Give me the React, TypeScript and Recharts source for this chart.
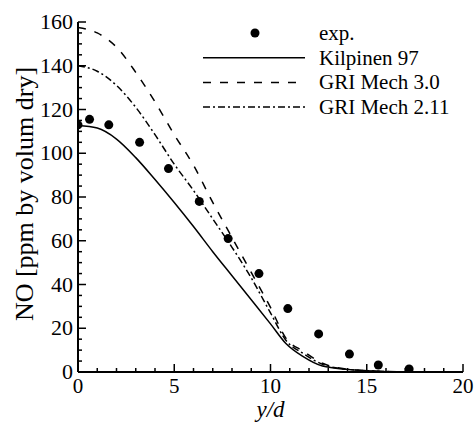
import React from "react";
import { ComposedChart, Line, Scatter, XAxis, YAxis, Legend } from "recharts";

// model curves share one x grid (y/d)
const modelX = [0, 1, 2, 3, 4, 5, 6, 7, 8, 9, 10, 10.8, 11.7, 12.7, 14, 15.5, 17.2];
const kilpinen97 = [112.7, 111.5, 106.5, 98, 88, 77.5, 66.5, 55, 44, 33, 22, 13, 7, 2.7, 1.2, 0.4, 0];
const griMech30 = [157.5, 155, 148.5, 137, 123.5, 108.5, 94.5, 77.5, 61.5, 45.5, 29.5, 15.5, 9.5, 4, 1.3, 0.4, 0];
const griMech211 = [140, 137.5, 131, 121, 108.5, 95, 83, 70, 57, 43, 27, 14.5, 8.5, 3.5, 1.2, 0.4, 0];

// experiment
const expX = [0, 0.6, 1.6, 3.2, 4.7, 6.3, 7.8, 9.4, 10.9, 12.5, 14.1, 15.6, 17.2];
const expNO = [113, 115.5, 113, 105, 93, 78, 61, 45, 29, 17.4, 8.2, 3.2, 1.4];

const xTicks = Array.from({ length: 21 }, (_, i) => i);
const yTicks = Array.from({ length: 33 }, (_, i) => i * 5);

const FONT = "'Liberation Serif', 'Times New Roman', serif";

const modelRows = modelX.map((x, i) => ({
  x,
  kil: kilpinen97[i],
  gri30: griMech30[i],
  gri211: griMech211[i],
}));
const expRows = expX.map((x, i) => ({ x, no: expNO[i] }));

function XTick(props: any) {
  const { x, y, payload } = props;
  const major = payload.value % 5 === 0;
  return (
    <g>
      <line x1={x} y1={y} x2={x} y2={y - (major ? 8 : 4)} stroke="#000" strokeWidth={1.5} />
      {major && (
        <text x={x} y={y + 21} textAnchor="middle" fontSize={21} style={{ fontFamily: FONT }} fill="#000">
          {payload.value}
        </text>
      )}
    </g>
  );
}

function YTick(props: any) {
  const { x, y, payload } = props;
  const major = payload.value % 20 === 0;
  return (
    <g>
      <line x1={x} y1={y} x2={x + (major ? 8 : 4)} y2={y} stroke="#000" strokeWidth={1.5} />
      {major && (
        <text x={x - 5} y={y + 7} textAnchor="end" fontSize={22} style={{ fontFamily: FONT }} fill="#000">
          {payload.value}
        </text>
      )}
    </g>
  );
}

function XTitle(props: any) {
  const vb = props.viewBox;
  return (
    <text
      x={vb.x + vb.width / 2}
      y={vb.y + 45}
      textAnchor="middle"
      fontSize={23}
      fontStyle="italic"
      style={{ fontFamily: FONT }}
      fill="#000"
    >
      y/d
    </text>
  );
}

function YTitle(props: any) {
  const vb = props.viewBox;
  const cx = 33;
  const cy = vb.y + vb.height / 2 - 3;
  return (
    <text
      x={cx}
      y={cy}
      transform={`rotate(-90 ${cx} ${cy})`}
      textAnchor="middle"
      fontSize={26}
      style={{ fontFamily: FONT }}
      fill="#000"
    >
      NO [ppm by volum dry]
    </text>
  );
}

const legendRows = [
  { name: "exp.", kind: "dot" },
  { name: "Kilpinen 97", kind: "solid" },
  { name: "GRI Mech 3.0", kind: "dash" },
  { name: "GRI Mech 2.11", kind: "dashdot" },
];

function LegendBox() {
  return (
    <svg width={275} height={112} style={{ display: "block" }}>
      {legendRows.map((r, i) => {
        const cy = 18 + i * 24.7;
        return (
          <g key={r.name}>
            {r.kind === "dot" ? (
              <circle cx={60} cy={cy} r={4.5} fill="#000" />
            ) : (
              <line
                x1={8}
                x2={110}
                y1={cy}
                y2={cy}
                stroke="#000"
                strokeWidth={1.5}
                strokeDasharray={r.kind === "dash" ? "8 9" : r.kind === "dashdot" ? "7 3 2 3" : undefined}
              />
            )}
            <text x={124} y={cy + 7} fontSize={21} style={{ fontFamily: FONT }} fill="#000">
              {r.name}
            </text>
          </g>
        );
      })}
    </svg>
  );
}

export default function App() {
  return (
    <div style={{ position: "absolute", left: 0, top: 0, background: "#fff" }}>
      <ComposedChart
        width={475}
        height={423}
        margin={{ top: 22, right: 12, bottom: 0, left: 8 }}
      >
        <XAxis
          type="number"
          dataKey="x"
          domain={[0, 20]}
          ticks={xTicks}
          interval={0}
          height={51}
          tickSize={0}
          tickMargin={0}
          tickLine={false}
          tick={<XTick />}
          axisLine={{ stroke: "#000", strokeWidth: 2 }}
          label={<XTitle />}
          allowDataOverflow
        />
        <YAxis
          type="number"
          domain={[0, 160]}
          ticks={yTicks}
          interval={0}
          width={70}
          tickSize={0}
          tickMargin={0}
          tickLine={false}
          tick={<YTick />}
          axisLine={{ stroke: "#000", strokeWidth: 2 }}
          label={<YTitle />}
          allowDataOverflow
        />
        <Legend
          layout="horizontal"
          verticalAlign="middle"
          align="center"
          content={() => <LegendBox />}
          wrapperStyle={{ position: "absolute", left: 195, top: 15, width: 275, height: 112 }}
        />
        <Line
          data={modelRows}
          dataKey="kil"
          type="monotone"
          stroke="#000"
          strokeWidth={1.5}
          dot={false}
          isAnimationActive={false}
        />
        <Line
          data={modelRows}
          dataKey="gri30"
          type="monotone"
          stroke="#000"
          strokeWidth={1.5}
          strokeDasharray="8 9"
          dot={false}
          isAnimationActive={false}
        />
        <Line
          data={modelRows}
          dataKey="gri211"
          type="monotone"
          stroke="#000"
          strokeWidth={1.5}
          strokeDasharray="7 3 2 3"
          dot={false}
          isAnimationActive={false}
        />
        <Scatter
          data={expRows}
          dataKey="no"
          fill="#000"
          shape={(p: any) => <circle cx={p.cx} cy={p.cy} r={4.5} fill="#000" />}
          isAnimationActive={false}
        />
      </ComposedChart>
    </div>
  );
}
